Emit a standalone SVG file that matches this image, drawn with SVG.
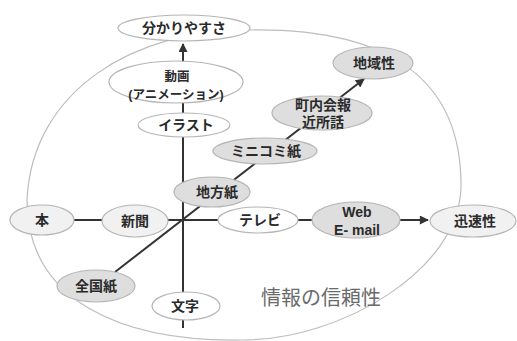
<svg xmlns="http://www.w3.org/2000/svg" width="517" height="341" viewBox="0 0 517 341">
<defs>
<marker id="ah" viewBox="0 0 10 10" refX="9" refY="5" markerWidth="5" markerHeight="4.5" orient="auto" markerUnits="strokeWidth"><path d="M0,0 L10,5 L0,10 z" fill="#333"/></marker>
<style>
.bg{fill:#fff}
.big{fill:none;stroke:#bdbdbd;stroke-width:1.2}
.ln{stroke:#333;stroke-width:2;fill:none}
.n ellipse{stroke:#b5b5b5;stroke-width:1.2}
.w{fill:#fff}
.l{fill:#f1f1f1}
.g{fill:#dedede}
.t{font-family:"Liberation Sans","Noto Sans CJK JP",sans-serif;font-weight:bold;font-size:14px;fill:#2a2a2a;text-anchor:middle}
.s{font-family:"Noto Sans CJK JP","Liberation Sans",sans-serif;font-size:20px;fill:#6a6a6a;text-anchor:middle}
</style>
</defs>
<rect class="bg" width="517" height="341"/>
<path id="circle" class="big" d="M250,30 C390,28 461,80 461,185 C461,270 340,340 243,340 C120,342 27,300 27,200 C32,90 135,29 250,30 Z"/>
<text class="s" x="321" y="305">情報の信頼性</text>
<g id="connectors">
<line class="ln" x1="183" y1="62" x2="183" y2="44" marker-end="url(#ah)"/>
<line class="ln" x1="183" y1="103" x2="183" y2="113"/>
<line class="ln" x1="183" y1="137" x2="183" y2="292"/>
<line class="ln" x1="183" y1="320" x2="183" y2="328"/>
<line class="ln" x1="74" y1="220" x2="102" y2="220"/>
<line class="ln" x1="168" y1="220" x2="218" y2="220"/>
<line class="ln" x1="298" y1="220" x2="313" y2="220"/>
<line class="ln" x1="400" y1="220" x2="428" y2="220" marker-end="url(#ah)"/>
<line class="ln" x1="115" y1="272" x2="364" y2="79" marker-end="url(#ah)"/>
</g>
<g id="n-wakari" class="n"><ellipse class="w" cx="184" cy="28" rx="66" ry="13"/><text class="t" x="184" y="33">分かりやすさ</text></g>
<g id="n-douga" class="n"><ellipse class="w" cx="176" cy="82" rx="67" ry="21"/><text class="t" x="177" y="81" style="font-size:12.5px">動画</text><text class="t" x="176" y="99" style="font-size:12.5px">(アニメーション)</text></g>
<g id="n-irasuto" class="n"><ellipse class="w" cx="184" cy="125" rx="46" ry="12"/><text class="t" x="186" y="130">イラスト</text></g>
<g id="n-chiiki" class="n"><ellipse class="g" cx="373" cy="63" rx="40" ry="16"/><text class="t" x="374" y="68">地域性</text></g>
<g id="n-chounai" class="n"><ellipse class="g" cx="322" cy="113" rx="50" ry="17"/><text class="t" x="323" y="110">町内会報</text><text class="t" x="323" y="127">近所話</text></g>
<g id="n-minikomi" class="n"><ellipse class="g" cx="265" cy="151" rx="52" ry="13"/><text class="t" x="266" y="156">ミニコミ紙</text></g>
<g id="n-chihou" class="n"><ellipse class="g" cx="212" cy="192" rx="38" ry="15"/><text class="t" x="217" y="197">地方紙</text></g>
<g id="n-terebi" class="n"><ellipse class="w" cx="258" cy="220" rx="40" ry="13"/><text class="t" x="260" y="225">テレビ</text></g>
<g id="n-web" class="n"><ellipse class="g" cx="356" cy="220" rx="44" ry="18"/><text class="t" x="357" y="217">Web</text><text class="t" x="357" y="235">E- mail</text></g>
<g id="n-jinsoku" class="n"><ellipse class="l" cx="473" cy="221" rx="43" ry="16"/><text class="t" x="475" y="226">迅速性</text></g>
<g id="n-hon" class="n"><ellipse class="l" cx="42" cy="220" rx="32" ry="15"/><text class="t" x="42" y="225">本</text></g>
<g id="n-shinbun" class="n"><ellipse class="l" cx="135" cy="221" rx="33" ry="16"/><text class="t" x="135" y="226">新聞</text></g>
<g id="n-zenkoku" class="n"><ellipse class="g" cx="96" cy="286" rx="39" ry="16"/><text class="t" x="96" y="291">全国紙</text></g>
<g id="n-moji" class="n"><ellipse class="w" cx="186" cy="306" rx="34" ry="14"/><text class="t" x="185" y="311">文字</text></g>
</svg>
